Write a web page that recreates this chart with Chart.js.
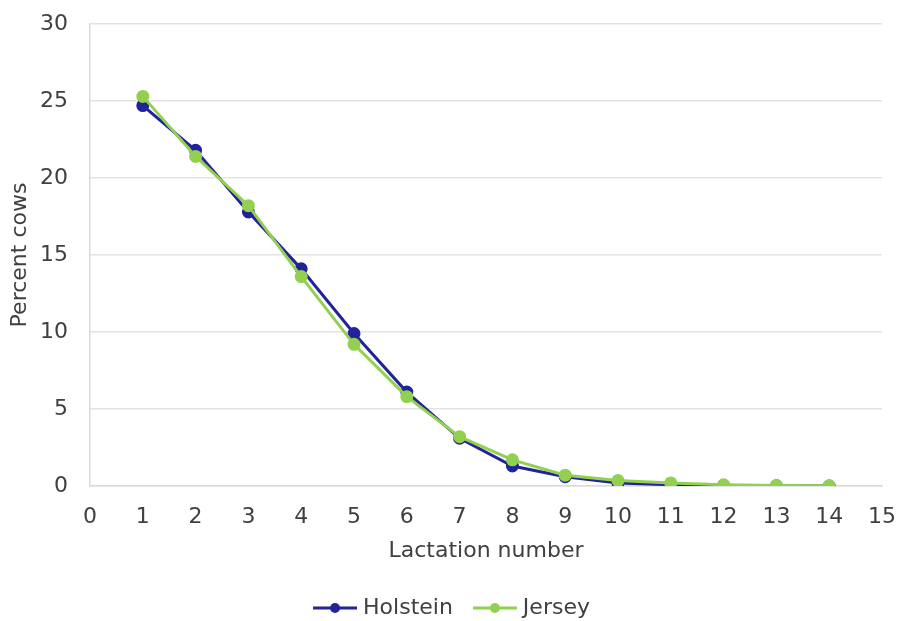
<!DOCTYPE html>
<html>
<head>
<meta charset="utf-8">
<script src="https://cdn.jsdelivr.net/npm/chart.js@4.4.1/dist/chart.umd.min.js"></script>
<style>
  html, body { margin: 0; padding: 0; background: #fff; }
  #wrap { width: 914px; height: 621px; }
</style>
</head>
<body>
<div id="wrap"><canvas id="chart" width="914" height="621"></canvas></div>
<script>
const lactation = [1, 2, 3, 4, 5, 6, 7, 8, 9, 10, 11, 12, 13, 14];
const holstein = [24.7, 21.8, 17.8, 14.1, 9.9, 6.1, 3.1, 1.3, 0.6, 0.2, 0.08, 0.03, 0.01, 0.0];
const jersey = [25.3, 21.4, 18.2, 13.6, 9.2, 5.8, 3.2, 1.7, 0.7, 0.35, 0.2, 0.08, 0.03, 0.01];
const xTicks = [0, 1, 2, 3, 4, 5, 6, 7, 8, 9, 10, 11, 12, 13, 14, 15];

const blue = "#22229a";
const green = "#92d050";
const textColor = "#404040";
const font = "'DejaVu Sans', sans-serif";

// legend marker: short line with a dot in the middle
function marker(color) {
  const c = document.createElement("canvas");
  c.width = 44;
  c.height = 12;
  const g = c.getContext("2d");
  g.strokeStyle = color;
  g.lineWidth = 3;
  g.beginPath();
  g.moveTo(0, 6);
  g.lineTo(44, 6);
  g.stroke();
  g.fillStyle = color;
  g.beginPath();
  g.arc(22, 6, 5, 0, Math.PI * 2);
  g.fill();
  return c;
}

const toPoints = (vals) => lactation.map((x, i) => ({ x: x, y: vals[i] }));

new Chart(document.getElementById("chart"), {
  type: "line",
  data: {
    datasets: [
      {
        label: "Holstein",
        data: toPoints(holstein),
        borderColor: blue,
        backgroundColor: blue,
        borderWidth: 3,
        pointRadius: 5,
        order: 0,
      },
      {
        label: "Jersey",
        data: toPoints(jersey),
        borderColor: green,
        backgroundColor: green,
        borderWidth: 3,
        pointRadius: 5,
        order: -1,
      },
    ],
  },
  options: {
    responsive: false,
    animation: false,
    layout: { padding: { top: 0, right: 31, left: 25, bottom: -8 } },
    plugins: {
      tooltip: { enabled: false },
      legend: {
        position: "bottom",
        labels: {
          color: textColor,
          font: { family: font, size: 22 },
          usePointStyle: true,
          pointStyleWidth: 34,
          padding: 25,
          generateLabels: (chart) =>
            chart.data.datasets.map((ds, i) => ({
              text: ds.label,
              pointStyle: marker(ds.borderColor),
              fontColor: textColor,
              datasetIndex: i,
              lineWidth: 0,
            })),
        },
      },
    },
    scales: {
      x: {
        type: "linear",
        min: 0,
        max: 15,
        afterBuildTicks: (s) => { s.ticks = xTicks.map((v) => ({ value: v })); },
        afterFit: (s) => { s.height = 86; },
        grid: { display: false, drawTicks: false },
        border: { display: true, color: "#d9d9d9", width: 1.5 },
        ticks: {
          color: textColor,
          padding: 18,
          maxRotation: 0,
          font: { family: font, size: 22 },
        },
        title: {
          display: true,
          text: "Lactation number",
          color: textColor,
          padding: { top: 4, bottom: 8 },
          font: { family: font, size: 22 },
        },
      },
      y: {
        min: 0,
        max: 30,
        afterFit: (s) => {
          s.width = 65;
          s.paddingTop = 24;
          s.paddingBottom = 0;
        },
        grid: { color: "#e3e3e3", lineWidth: 1.5, drawTicks: false },
        border: { display: true, color: "#d9d9d9", width: 1.5 },
        ticks: {
          stepSize: 5,
          color: textColor,
          padding: 22,
          font: { family: font, size: 22 },
        },
        title: {
          display: true,
          text: "Percent cows",
          color: textColor,
          padding: { top: -18, bottom: 0 },
          font: { family: font, size: 22 },
        },
      },
    },
  },
});
</script>
</body>
</html>
